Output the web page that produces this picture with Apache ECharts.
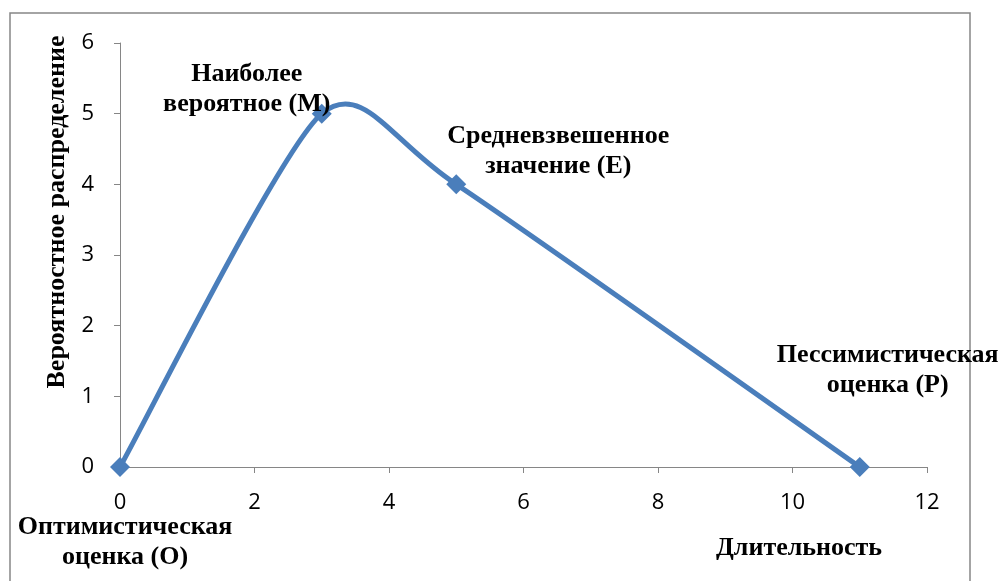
<!DOCTYPE html>
<html><head><meta charset="utf-8">
<script src="https://cdn.jsdelivr.net/npm/echarts@6/dist/echarts.min.js"></script>
<style>html,body{margin:0;padding:0;background:#fff}#c{width:1003px;height:581px}</style>
</head><body><div id="c"></div>
<script>
const xValues = [0, 3, 5, 11];
const yValues = [0, 5, 4, 0];
const pointLabels = ['Оптимистическая\nоценка (O)', 'Наиболее\nвероятное (М)', 'Средневзвешенное\nзначение (E)', 'Пессимистическая\nоценка (P)'];
const xAxisTitle = 'Длительность';
const yAxisTitle = 'Вероятностное распределение';

const labelOffsets = [[5, 75], [-75, -24], [102, -33], [28, -97]];
const serif = '"Liberation Serif", "Times New Roman", serif';
const lineColor = '#4a7ebb';
const tension = 0.12;

const chart = echarts.init(document.getElementById('c'), null, {renderer: 'canvas'});
const points = xValues.map((x, i) => [x, yValues[i]]);
const pointData = points.map((p, i) => ({
  value: p,
  label: {show: true, position: 'inside', offset: labelOffsets[i], formatter: pointLabels[i]}
}));

function renderSegment(params, api) {
  const i = params.dataIndex;
  const n = points.length;
  if (i >= n - 1) return null;
  const P = k => api.coord(points[k]);
  const p0 = P(Math.max(i - 1, 0)), p1 = P(i), p2 = P(i + 1), p3 = P(Math.min(i + 2, n - 1));
  const c1 = [p1[0] + (p2[0] - p0[0]) * tension, p1[1] + (p2[1] - p0[1]) * tension];
  const c2 = [p2[0] - (p3[0] - p1[0]) * tension, p2[1] - (p3[1] - p1[1]) * tension];
  return {
    type: 'bezierCurve',
    shape: {x1: p1[0], y1: p1[1], x2: p2[0], y2: p2[1], cpx1: c1[0], cpy1: c1[1], cpx2: c2[0], cpy2: c2[1]},
    style: {stroke: lineColor, lineWidth: 5, fill: null, lineCap: 'round'}
  };
}

chart.setOption({
  animation: false,
  backgroundColor: '#fff',
  grid: {left: 120, right: 76, top: 43, bottom: 114, containLabel: false},
  xAxis: {
    type: 'value', min: 0, max: 12, interval: 2,
    axisLine: {show: true, lineStyle: {color: '#868686', width: 1}},
    axisTick: {show: true, length: 6, lineStyle: {color: '#868686'}},
    splitLine: {show: false},
    axisLabel: {color: '#000', fontSize: 22, fontFamily: '"Open Sans", sans-serif', margin: 25}
  },
  yAxis: {
    type: 'value', min: 0, max: 6, interval: 1,
    axisLine: {show: true, lineStyle: {color: '#868686', width: 1}},
    axisTick: {show: true, length: 6, lineStyle: {color: '#868686'}},
    splitLine: {show: false},
    axisLabel: {color: '#000', fontSize: 22, fontFamily: '"Open Sans", sans-serif', margin: 26}
  },
  graphic: [
    {type: 'rect', shape: {x: 10, y: 13, width: 960, height: 600}, style: {fill: 'none', stroke: '#868686', lineWidth: 1.5}, z: -10},
    {type: 'text', x: 799, y: 548, style: {text: xAxisTitle, font: 'bold 26px ' + serif, fill: '#000', textAlign: 'center', textVerticalAlign: 'middle'}},
    {type: 'text', x: 57, y: 212, rotation: Math.PI / 2, style: {text: yAxisTitle, font: 'bold 26px ' + serif, fill: '#000', textAlign: 'center', textVerticalAlign: 'middle'}}
  ],
  series: [{
    type: 'custom',
    data: points,
    renderItem: renderSegment,
    clip: false,
    z: 2
  }, {
    type: 'scatter',
    data: pointData,
    symbol: 'diamond',
    symbolSize: 20,
    itemStyle: {color: lineColor, opacity: 1},
    z: 3,
    label: {color: '#000', opacity: 1, fontFamily: serif, fontWeight: 'bold', fontSize: 26, lineHeight: 30, align: 'center', verticalAlign: 'middle'}
  }]
});
</script></body></html>
